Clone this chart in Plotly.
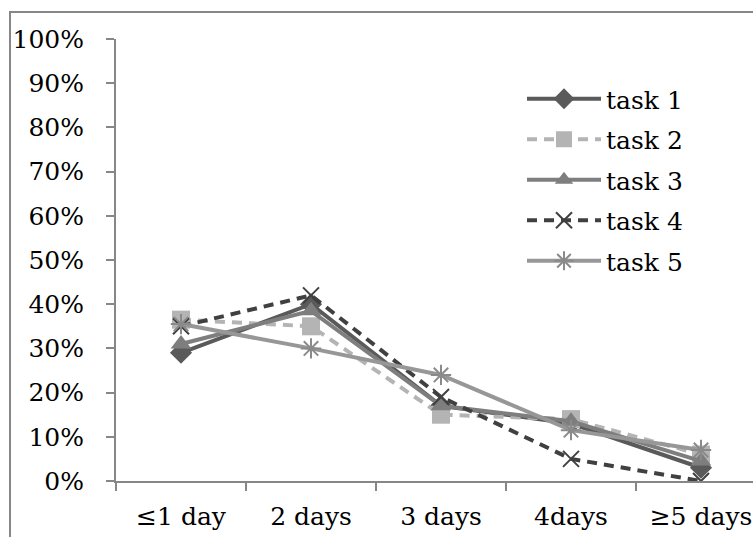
import plotly.graph_objects as go

categories = ["≤1 day", "2 days", "3 days", "4days", "≥5 days"]
task1 = [0.29, 0.40, 0.17, 0.13, 0.03]
task2 = [0.365, 0.35, 0.15, 0.14, 0.06]
task3 = [0.31, 0.385, 0.17, 0.135, 0.045]
task4 = [0.35, 0.42, 0.19, 0.05, 0.0]
task5 = [0.355, 0.30, 0.24, 0.115, 0.07]
series_names = ["task 1", "task 2", "task 3", "task 4", "task 5"]
y_ticks = [i / 10 for i in range(11)]

FONT = "DejaVu Serif"
FS = 25

styles = [
    dict(color="#5a5a5a", dash="solid", symbol="diamond", size=17, mcolor="#5a5a5a", mline=0),
    dict(color="#b4b4b4", dash="10px,7px", symbol="square", size=18, mcolor="#b4b4b4", mline=0),
    dict(color="#7e7e7e", dash="solid", symbol="triangle-up", size=18, mcolor="#7e7e7e", mline=0),
    dict(color="#404040", dash="10px,7px", symbol="x-thin-open", size=16, mcolor="#404040", mline=2),
    dict(color="#979797", dash="solid", symbol="asterisk-open", size=17, mcolor="#8a8a8a", mline=2),
]

fig = go.Figure()
for name, vals, st in zip(series_names, [task1, task2, task3, task4, task5], styles):
    fig.add_trace(go.Scatter(
        x=categories, y=vals, name=name, legendgroup=name, mode="lines+markers",
        line=dict(color=st["color"], width=4, dash=st["dash"]),
        marker=dict(symbol=st["symbol"], size=st["size"], color=st["mcolor"],
                    line=dict(color=st["mcolor"], width=st["mline"])),
    ))

W, H = 753, 537
L, R, T, B = 116, 0, 39, 56
pw, ph = W - L - R, H - T - B

fig.update_layout(
    width=W, height=H,
    margin=dict(l=L, r=R, t=T, b=B, pad=0),
    paper_bgcolor="white", plot_bgcolor="white",
    font=dict(family=FONT, size=FS, color="black"),
    showlegend=True,
    legend=dict(x=(522 - L) / pw, y=(481 - 76) / ph, xanchor="left", yanchor="top",
                bgcolor="rgba(0,0,0,0)", font=dict(size=FS, family=FONT, color="black"),
                itemwidth=74, tracegroupgap=5, traceorder="grouped"),
    xaxis=dict(type="category", range=[-0.5, 4.4], tickson="boundaries",
               showgrid=False, zeroline=False, showline=True, linecolor="#878787", linewidth=2,
               ticks="outside", ticklen=8, tickcolor="#878787", tickwidth=2,
               ticklabelstandoff=12,
               tickfont=dict(size=FS, family=FONT, color="black"), fixedrange=True),
    yaxis=dict(range=[0, 1], tickvals=y_ticks, tickformat=".0%",
               showgrid=False, zeroline=False, showline=True, linecolor="#878787", linewidth=2,
               ticks="outside", ticklen=8, tickcolor="#878787", tickwidth=2,
               ticklabelstandoff=17,
               tickfont=dict(size=FS, family=FONT, color="black"), fixedrange=True),
    shapes=[dict(type="rect", xref="paper", yref="paper",
                 x0=(10 - L) / pw, x1=1.05, y0=-0.2, y1=(481 - 12) / ph,
                 line=dict(color="#878787", width=2), fillcolor="rgba(0,0,0,0)", layer="below")],
)

fig.write_html("out.html")
